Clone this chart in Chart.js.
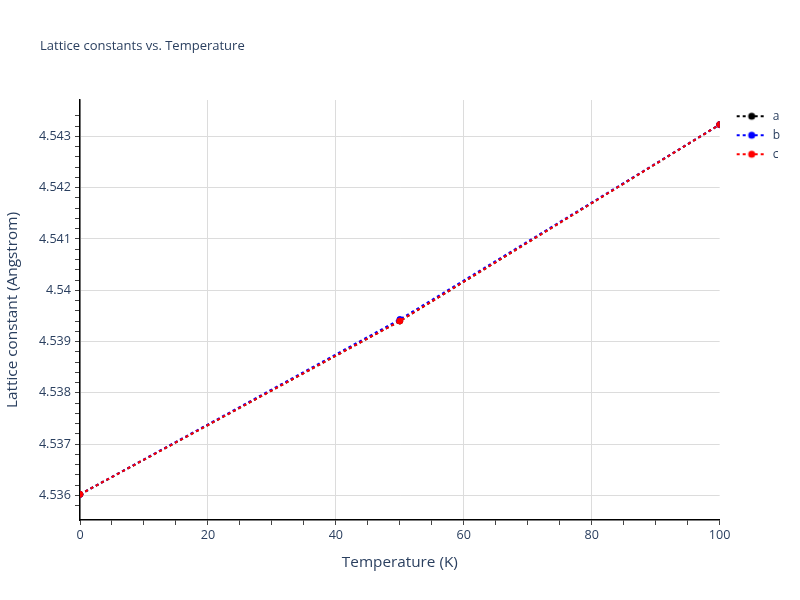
<!DOCTYPE html>
<html>
<head>
<meta charset="utf-8">
<title>Lattice constants vs. Temperature</title>
<script src="https://cdn.jsdelivr.net/npm/chart.js@4.4.1/dist/chart.umd.min.js"></script>
<style>
  html, body { margin: 0; padding: 0; background: #fff; }
  #wrap { width: 800px; height: 600px; }
</style>
</head>
<body>
<div id="wrap"><canvas id="latticeChart" width="800" height="600"></canvas></div>
<script>
// values
const temperatures = [0, 50, 100];
const latticeA = [4.53602, 4.5394, 4.54323];
const latticeB = [4.53602, 4.53943, 4.54323];
const latticeC = [4.53602, 4.5394, 4.54323];

const seriesNames = ["a", "b", "c"];
const seriesColors = ["#000000", "#0000ff", "#ff0000"];

const xMajorStep = 20;
const xMinorStep = 5;
const yMajorStep = 0.001;
const yMinorStep = 0.0002;

const textColor = "#2a3f5f";
const gridColor = "#dcdcdc";
const fontFamily = "'Open Sans', 'DejaVu Sans', sans-serif";

const onStep = (v, step) => Math.abs(v / step - Math.round(v / step)) < 1e-6;

function toPoints(values) {
  return temperatures.map((t, i) => ({ x: t, y: values[i] }));
}

// small dotted line + marker, used as legend symbol
function makeLegendIcon(color) {
  const icon = document.createElement("canvas");
  icon.width = 40;
  icon.height = 10;
  const ctx = icon.getContext("2d");
  ctx.strokeStyle = color;
  ctx.lineWidth = 2;
  ctx.setLineDash([3, 3]);
  ctx.beginPath();
  ctx.moveTo(10, 5);
  ctx.lineTo(40, 5);
  ctx.stroke();
  ctx.setLineDash([]);
  ctx.fillStyle = color;
  ctx.beginPath();
  ctx.arc(25, 5, 3.5, 0, Math.PI * 2);
  ctx.fill();
  return icon;
}

const legendIcons = seriesColors.map(makeLegendIcon);

const mainTitle = {
  id: "mainTitle",
  afterDraw(chart) {
    const ctx = chart.ctx;
    ctx.save();
    ctx.font = "13px " + fontFamily;
    ctx.fillStyle = textColor;
    ctx.textAlign = "left";
    ctx.textBaseline = "middle";
    ctx.fillText("Lattice constants vs. Temperature", 40, 46);
    ctx.restore();
  },
};

function makeDataset(i, values) {
  return {
    label: seriesNames[i],
    data: toPoints(values),
    borderColor: seriesColors[i],
    backgroundColor: seriesColors[i],
    borderWidth: 2,
    borderDash: [3, 3],
    pointRadius: 3,
    pointBorderWidth: 1,
    pointBackgroundColor: seriesColors[i],
    pointBorderColor: seriesColors[i],
    tension: 0,
    fill: false,
    order: 2 - i,
  };
}

document.addEventListener("DOMContentLoaded", () => {
  const ctx = document.getElementById("latticeChart").getContext("2d");

  new Chart(ctx, {
    type: "line",
    data: {
      datasets: [
        makeDataset(0, latticeA),
        makeDataset(1, latticeB),
        makeDataset(2, latticeC),
      ],
    },
    options: {
      responsive: false,
      animation: false,
      devicePixelRatio: 1,
      layout: {
        padding: { top: 100, right: 10, bottom: 0, left: 0 },
      },
      plugins: {
        title: { display: false },
        tooltip: { enabled: false },
        legend: {
          position: "right",
          align: "start",
          title: {
            display: true,
            text: "",
            font: { size: 1 },
            padding: { top: 2, bottom: 0 },
          },
          labels: {
            usePointStyle: true,
            pointStyleWidth: 40,
            padding: 7,
            color: textColor,
            font: { family: fontFamily, size: 12 },
            generateLabels: (chart) => {
              const items =
                Chart.defaults.plugins.legend.labels.generateLabels(chart);
              items.sort((p, q) => p.datasetIndex - q.datasetIndex);
              items.forEach((item) => {
                item.pointStyle = legendIcons[item.datasetIndex];
              });
              return items;
            },
          },
        },
      },
      scales: {
        x: {
          type: "linear",
          min: 0,
          max: 100,
          afterFit: (scale) => {
            scale.height = 80;
          },
          border: { display: true, color: "#000", width: 1.5 },
          grid: {
            drawTicks: true,
            tickLength: 5,
            tickWidth: 1,
            lineWidth: 1,
            color: (c) =>
              onStep(c.tick.value, xMajorStep) && c.tick.value !== 100
                ? gridColor
                : "transparent",
            tickColor: (c) =>
              onStep(c.tick.value, xMinorStep) ? "#444" : "transparent",
          },
          ticks: {
            stepSize: xMinorStep,
            maxTicksLimit: 1000,
            autoSkip: false,
            maxRotation: 0,
            padding: 3,
            color: textColor,
            font: { family: fontFamily, size: 12.6 },
            callback: (v) => (onStep(v, xMajorStep) ? String(v) : ""),
          },
          title: {
            display: true,
            text: "Temperature (K)",
            color: textColor,
            font: { family: fontFamily, size: 15.3 },
            padding: { top: 0, bottom: 28 },
          },
        },
        y: {
          type: "linear",
          min: 4.53552,
          max: 4.54371,
          afterFit: (scale) => {
            scale.width = 80;
          },
          border: { display: true, color: "#000", width: 1.5 },
          grid: {
            drawTicks: true,
            tickLength: 5,
            tickWidth: 1,
            lineWidth: 1,
            color: (c) =>
              onStep(c.tick.value, yMajorStep) ? gridColor : "transparent",
            tickColor: (c) =>
              onStep(c.tick.value, yMinorStep) ? "#444" : "transparent",
          },
          ticks: {
            stepSize: yMinorStep,
            maxTicksLimit: 1000,
            autoSkip: false,
            padding: 4,
            color: textColor,
            font: { family: fontFamily, size: 12.6 },
            callback: (v) =>
              onStep(v, yMajorStep) ? String(Math.round(v * 1000) / 1000) : "",
          },
          title: {
            display: true,
            text: "Lattice constant (Angstrom)",
            color: textColor,
            font: { family: fontFamily, size: 15.3 },
            padding: { top: 3, bottom: 0 },
          },
        },
      },
    },
    plugins: [mainTitle],
  });
});
</script>
</body>
</html>
